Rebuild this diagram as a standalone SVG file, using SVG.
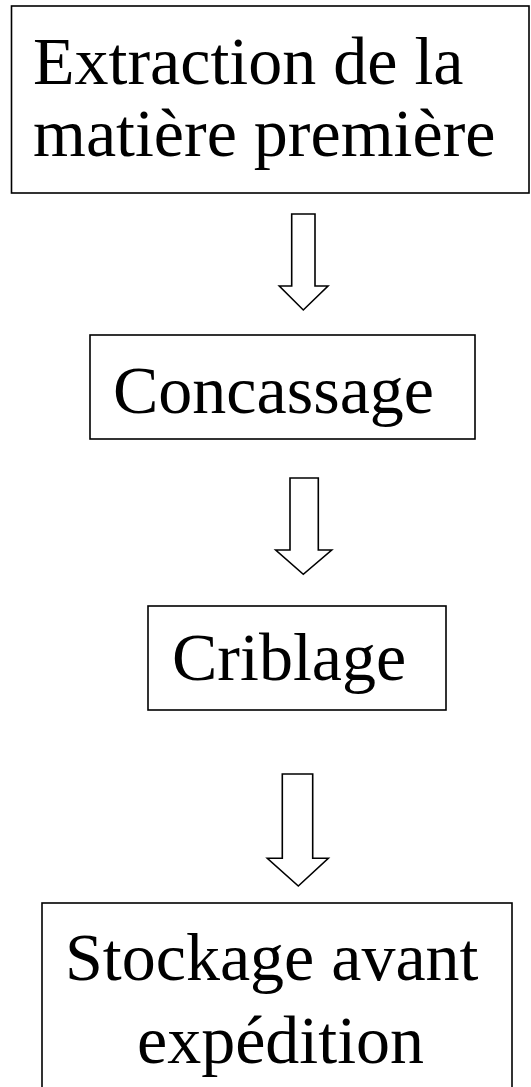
<svg xmlns="http://www.w3.org/2000/svg" width="531" height="1087" viewBox="0 0 531 1087">
<style>
.box{fill:#fff;stroke:#000;stroke-width:1.6}
.arr{fill:#fff;stroke:#000;stroke-width:1.6;stroke-linejoin:miter}
.t{font-family:"Liberation Serif","Times New Roman",serif;font-size:68px;fill:#000}
</style>
<rect width="531" height="1087" fill="#fff"/>
<g id="n1">
<rect class="box" x="11.5" y="6" width="517.5" height="187"/>
<text class="t" x="33" y="84">Extraction de la</text>
<text class="t" x="33" y="156">matière première</text>
</g>
<g id="n2">
<rect class="box" x="90" y="335" width="385" height="104"/>
<text class="t" x="113" y="413">Concassage</text>
</g>
<g id="n3">
<rect class="box" x="148" y="606" width="298" height="104"/>
<text class="t" x="172" y="680">Criblage</text>
</g>
<g id="n4">
<rect class="box" x="42" y="903" width="470" height="200"/>
<text class="t" x="65" y="980">Stockage avant</text>
<text class="t" x="137" y="1063">expédition</text>
</g>
<g id="connectors">
<polygon class="arr" points="291.7,214 315,214 315,286 328,286 303.3,310 279.3,286 291.7,286"/>
<polygon class="arr" points="290,478 318.3,478 318.3,550 331.7,550 303.3,574.3 275.7,550 290,550"/>
<polygon class="arr" points="282.3,774 312.7,774 312.7,858.3 328.3,858.3 298.3,886 267.3,858.3 282.3,858.3"/>
</g>
</svg>
